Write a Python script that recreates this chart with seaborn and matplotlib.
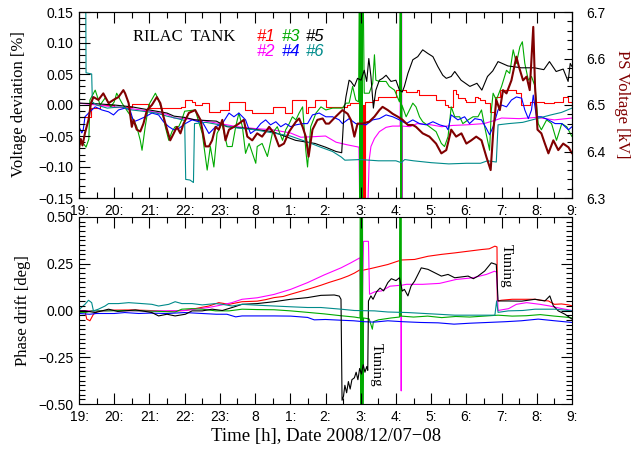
import numpy as np
import matplotlib
matplotlib.use("Agg")
import matplotlib.pyplot as plt
import seaborn as sns
from matplotlib.ticker import MultipleLocator, FuncFormatter

# hours since 19:00 on 12/07 (19 .. 33 = 9:00 next day)
hour_ticks = list(range(19, 34))
hour_labels = ["19:", "20:", "21:", "22:", "23:", "8", "1:", "2:", "3:",
               "4:", "5:", "6:", "7:", "8:", "9:"]

tank_names = ["#1", "#2", "#3", "#4", "#5", "#6"]
tank_colors = ["#ff0000", "#ff00ff", "#00aa00", "#0000ff", "#000000", "#008b8b"]
ps_color = "#800000"

# ---- top panel: voltage deviation [%] (time, value) ----
volt_1 = [(19.0, -0.02), (19.3, -0.02), (19.35, -0.005), (19.6, 0.0), (20.0, -0.003),
          (20.5, 0.002), (21.0, -0.005), (21.5, -0.005), (21.9, -0.003), (22.0, 0.008),
          (22.2, 0.005), (22.3, 0.0), (22.5, 0.003), (22.7, -0.011), (23.0, -0.008),
          (23.25, 0.005), (23.5, 0.005), (23.7, -0.008), (23.9, -0.013), (24.3, -0.013),
          (24.5, -0.003), (24.85, -0.013), (25.05, 0.008), (25.35, 0.008), (25.44, -0.013),
          (25.5, -0.003), (25.7, 0.008), (26.0, -0.003), (26.6, 0.0), (26.7, 0.003),
          (27.0, 0.003), (27.02, -0.2), (27.04, 0.0), (27.06, -0.2), (27.08, 0.0),
          (27.10, -0.2), (27.12, 0.005), (27.35, 0.008), (27.5, 0.013), (27.8, 0.013),
          (28.0, 0.024), (28.3, 0.021), (28.6, 0.024), (28.66, 0.016), (29.0, 0.016),
          (29.14, 0.008), (29.4, 0.0), (29.47, -0.003), (29.62, 0.024), (29.7, 0.018),
          (29.76, 0.011), (29.85, 0.011), (29.95, 0.008), (30.0, 0.005), (30.14, 0.005),
          (30.25, 0.013), (30.33, 0.011), (30.4, 0.008), (30.52, 0.003), (30.66, -0.011),
          (30.8, 0.013), (30.95, 0.024), (31.4, 0.02), (31.56, 0.0), (31.8, 0.005),
          (32.2, 0.003), (32.5, 0.005), (32.75, 0.013), (32.9, 0.005), (33.0, -0.003)]

volt_2 = [(19.0, 0.003), (19.5, 0.0), (20.0, -0.003), (20.5, -0.006), (21.0, -0.01),
          (21.5, -0.015), (21.7, -0.021), (22.0, -0.022), (22.5, -0.025), (23.0, -0.03),
          (23.5, -0.035), (24.0, -0.038), (24.5, -0.04), (25.0, -0.045), (25.3, -0.052),
          (25.7, -0.051), (26.0, -0.05), (26.3, -0.06), (26.6, -0.064), (26.95, -0.068),
          (26.98, -0.2), (27.18, -0.2), (27.21, -0.148), (27.24, -0.089), (27.29, -0.067),
          (27.39, -0.054), (27.53, -0.043), (27.72, -0.036), (27.9, -0.034), (28.12, -0.034),
          (28.14, 0.2), (28.15, -0.2), (28.16, 0.2), (28.17, -0.2), (28.18, -0.034),
          (28.4, -0.035), (28.6, -0.03), (29.0, -0.032), (29.3, -0.035), (29.6, -0.033),
          (30.0, -0.032), (30.5, -0.03), (30.8, -0.025), (31.0, -0.021), (31.5, -0.022),
          (32.0, -0.02), (32.5, -0.024), (33.0, -0.021)]

volt_3 = [(19.0, -0.065), (19.1, -0.06), (19.2, -0.068), (19.28, -0.055), (19.31, 0.008),
          (19.46, 0.024), (19.6, 0.0), (19.75, 0.012), (19.9, -0.003), (20.0, 0.005),
          (20.07, 0.019), (20.22, 0.003), (20.41, -0.013), (20.55, -0.024), (20.64, -0.035),
          (20.74, -0.057), (20.79, -0.073), (20.88, -0.035), (20.98, 0.0), (21.17, 0.019),
          (21.26, 0.008), (21.35, -0.008), (21.45, -0.035), (21.55, -0.057), (21.64, -0.043),
          (21.73, -0.035), (21.83, -0.035), (21.92, -0.024), (22.0, -0.01), (22.3, -0.008),
          (22.5, -0.046), (22.64, -0.105), (22.73, -0.067), (22.83, -0.1), (22.92, -0.046),
          (23.06, -0.03), (23.21, -0.067), (23.35, -0.067), (23.45, -0.035), (23.54, -0.013),
          (23.64, -0.035), (23.73, -0.078), (23.83, -0.062), (24.02, -0.094), (24.06, -0.067),
          (24.2, -0.062), (24.35, -0.083), (24.49, -0.046), (24.63, -0.035), (24.78, -0.057),
          (24.87, -0.04), (24.97, -0.03), (25.06, -0.019), (25.16, -0.024), (25.25, -0.013),
          (25.35, -0.003), (25.44, -0.073), (25.49, -0.1), (25.58, -0.035), (25.73, -0.013),
          (25.87, -0.003), (26.01, -0.008), (26.2, -0.005), (26.48, -0.005), (26.58, 0.003),
          (26.67, 0.003), (26.77, 0.03), (26.86, 0.008), (26.94, 0.005),
          (26.97, 0.3), (26.98, -0.3), (26.99, 0.3), (27.0, -0.3), (27.01, 0.3),
          (27.02, -0.3), (27.03, 0.3), (27.04, -0.3), (27.05, 0.3), (27.1, 0.019),
          (27.24, 0.019), (27.34, 0.035), (27.39, 0.081), (27.43, 0.04), (27.53, 0.038),
          (27.72, 0.038), (27.81, 0.03), (27.96, 0.024), (28.1, 0.005), (28.13, 0.3),
          (28.14, -0.3), (28.15, 0.3), (28.16, -0.3), (28.17, 0.0), (28.29, -0.019),
          (28.48, 0.003), (28.57, -0.003), (28.67, -0.019), (28.76, -0.027), (28.95, -0.035),
          (29.14, -0.043), (29.29, -0.062), (29.38, -0.067), (29.48, -0.051), (29.57, -0.003),
          (29.67, -0.019), (29.81, -0.019), (29.9, -0.03), (30.05, -0.024), (30.19, -0.019),
          (30.33, -0.019), (30.43, -0.008), (30.52, -0.035), (30.66, -0.073), (30.71, -0.008),
          (30.76, 0.019), (30.85, 0.008), (31.0, 0.03), (31.14, 0.056), (31.23, 0.051),
          (31.33, 0.089), (31.42, 0.067), (31.52, 0.094), (31.59, 0.102), (31.66, 0.067),
          (31.76, 0.04), (31.85, 0.046), (31.95, 0.03), (32.04, -0.03), (32.13, -0.04),
          (32.28, -0.024), (32.42, -0.03), (32.56, -0.057), (32.71, -0.03), (32.85, -0.035),
          (33.0, -0.051)]

volt_4 = [(19.0, -0.035), (19.08, -0.045), (19.12, -0.04), (19.17, -0.019), (19.31, -0.011),
          (19.46, -0.003), (19.65, -0.008), (19.84, -0.011), (19.98, -0.016), (20.12, -0.008),
          (20.31, -0.005), (20.45, -0.008), (20.55, -0.027), (20.69, -0.024), (20.88, -0.019),
          (21.07, -0.013), (21.26, -0.016), (21.4, -0.027), (21.55, -0.035), (21.69, -0.04),
          (21.83, -0.038), (22.02, -0.03), (22.21, -0.024), (22.4, -0.027), (22.5, -0.027),
          (22.69, -0.046), (22.88, -0.035), (23.07, -0.03), (23.26, -0.013), (23.4, -0.019),
          (23.54, -0.013), (23.73, -0.024), (23.87, -0.046), (24.02, -0.04), (24.16, -0.03),
          (24.3, -0.024), (24.44, -0.032), (24.59, -0.027), (24.73, -0.035), (24.87, -0.03),
          (25.01, -0.035), (25.16, -0.032), (25.35, -0.03), (25.49, -0.03), (25.63, -0.016),
          (25.82, -0.013), (26.01, -0.019), (26.2, -0.019), (26.39, -0.024), (26.48, -0.03),
          (26.67, -0.022), (26.86, -0.03), (27.15, -0.032), (27.34, -0.024), (27.53, -0.022),
          (27.72, -0.016), (27.91, -0.019), (28.1, -0.024), (28.29, -0.03), (28.48, -0.024),
          (28.67, -0.03), (28.86, -0.032), (29.05, -0.027), (29.24, -0.032), (29.43, -0.035),
          (29.48, -0.04), (29.57, -0.016), (29.76, -0.024), (29.95, -0.019), (30.09, -0.03),
          (30.24, -0.022), (30.43, -0.024), (30.57, -0.038), (30.66, -0.048), (30.76, -0.035),
          (30.9, -0.008), (31.0, 0.0), (31.14, -0.003), (31.28, 0.008), (31.42, 0.013),
          (31.57, 0.011), (31.66, -0.008), (31.76, -0.022), (31.85, -0.008), (31.9, 0.016),
          (31.99, -0.019), (32.13, -0.019), (32.33, -0.024), (32.52, -0.03), (32.71, -0.03),
          (32.9, -0.04), (33.0, -0.035)]

volt_5 = [(19.0, 0.003), (19.5, 0.002), (20.0, 0.0), (20.5, -0.003), (21.0, -0.008),
          (21.5, -0.013), (21.7, -0.018), (22.0, -0.02), (22.3, -0.024), (22.9, -0.026),
          (23.2, -0.035), (23.8, -0.038), (24.5, -0.043), (25.15, -0.057), (25.7, -0.062),
          (26.0, -0.068), (26.3, -0.075), (26.46, -0.077), (26.53, -0.008), (26.58, 0.013),
          (26.67, 0.04), (26.72, 0.038), (26.82, 0.03), (26.91, 0.043), (27.01, 0.04),
          (27.1, 0.056), (27.17, 0.038), (27.23, 0.075), (27.29, 0.046), (27.36, -0.005),
          (27.43, 0.024), (27.53, 0.04), (27.62, 0.043), (27.72, 0.048), (27.86, 0.038),
          (28.0, 0.04), (28.1, 0.024), (28.18, 0.021), (28.24, 0.03), (28.34, 0.051),
          (28.48, 0.073), (28.62, 0.078), (28.76, 0.089), (28.91, 0.083), (29.05, 0.078),
          (29.19, 0.062), (29.33, 0.048), (29.43, 0.043), (29.57, 0.046), (29.67, 0.054),
          (29.85, 0.04), (30.1, 0.03), (30.3, 0.035), (30.44, 0.024), (30.6, 0.046),
          (30.75, 0.055), (30.9, 0.07), (31.18, 0.063), (31.56, 0.06), (31.93, 0.06),
          (32.2, 0.057), (32.36, 0.07), (32.55, 0.054), (32.75, 0.058), (32.89, 0.038),
          (32.95, 0.067), (33.0, 0.062)]

volt_6 = [(19.0, 0.2), (19.19, 0.2), (19.2, 0.052), (19.36, 0.05), (19.38, 0.005),
          (19.5, 0.0), (19.8, -0.005), (20.2, -0.003), (20.5, -0.008), (20.8, -0.01),
          (21.2, -0.013), (21.5, -0.018), (21.8, -0.022), (22.0, -0.025), (22.03, -0.12),
          (22.15, -0.121), (22.25, -0.125), (22.28, -0.03), (22.6, -0.028), (23.0, -0.032),
          (23.5, -0.037), (24.0, -0.04), (24.5, -0.045), (25.0, -0.05), (25.5, -0.06),
          (25.86, -0.068), (26.2, -0.075), (26.45, -0.084), (26.55, -0.089), (27.0, -0.088),
          (27.5, -0.09), (28.0, -0.09), (28.15, -0.093), (28.25, -0.088), (28.5, -0.09),
          (29.0, -0.093), (29.5, -0.095), (30.0, -0.094), (30.4, -0.094), (30.6, -0.09),
          (30.85, -0.092), (30.9, -0.032), (31.2, -0.03), (31.6, -0.028), (32.0, -0.022),
          (32.4, -0.016), (32.7, -0.012), (33.0, -0.005)]

# PS voltage [kV], right axis
ps_kv = [(19.0, 6.407), (19.05, 6.427), (19.1, 6.413), (19.17, 6.44), (19.27, 6.468),
         (19.34, 6.504), (19.41, 6.517), (19.55, 6.511), (19.69, 6.525), (19.84, 6.504),
         (19.98, 6.511), (20.12, 6.517), (20.26, 6.532), (20.31, 6.525), (20.41, 6.504),
         (20.5, 6.453), (20.55, 6.468), (20.64, 6.447), (20.74, 6.443), (20.83, 6.46),
         (20.93, 6.489), (21.07, 6.5), (21.21, 6.517), (21.31, 6.504), (21.4, 6.475),
         (21.5, 6.447), (21.59, 6.424), (21.69, 6.439), (21.78, 6.453), (21.88, 6.439),
         (21.97, 6.46), (22.12, 6.483), (22.3, 6.489), (22.45, 6.468), (22.59, 6.411),
         (22.69, 6.411), (22.78, 6.424), (22.88, 6.453), (22.97, 6.447), (23.07, 6.468),
         (23.16, 6.424), (23.26, 6.447), (23.4, 6.453), (23.54, 6.46), (23.68, 6.468),
         (23.78, 6.432), (23.92, 6.424), (24.06, 6.439), (24.2, 6.432), (24.4, 6.453),
         (24.54, 6.439), (24.68, 6.411), (24.82, 6.417), (24.97, 6.443), (25.16, 6.464),
         (25.25, 6.471), (25.35, 6.453), (25.44, 6.432), (25.52, 6.389), (25.63, 6.447),
         (25.77, 6.468), (25.92, 6.471), (26.01, 6.46), (26.1, 6.46), (26.29, 6.475),
         (26.48, 6.489), (26.63, 6.481), (26.72, 6.468), (26.82, 6.432), (26.91, 6.46),
         (27.05, 6.46), (27.24, 6.464), (27.39, 6.475), (27.53, 6.489), (27.62, 6.496),
         (27.77, 6.489), (27.91, 6.481), (28.05, 6.475), (28.19, 6.468), (28.34, 6.457),
         (28.48, 6.457), (28.57, 6.453), (28.76, 6.439), (28.95, 6.432), (29.14, 6.417),
         (29.29, 6.396), (29.43, 6.403), (29.57, 6.447), (29.71, 6.432), (29.86, 6.439),
         (30.0, 6.417), (30.14, 6.424), (30.28, 6.432), (30.43, 6.424), (30.57, 6.388),
         (30.69, 6.36), (30.76, 6.439), (30.85, 6.511), (30.95, 6.489), (31.04, 6.532),
         (31.14, 6.525), (31.28, 6.553), (31.42, 6.604), (31.49, 6.583), (31.61, 6.553),
         (31.71, 6.561), (31.8, 6.532), (31.9, 6.668), (31.95, 6.54), (32.02, 6.447),
         (32.13, 6.439), (32.23, 6.417), (32.33, 6.396), (32.47, 6.424), (32.61, 6.403),
         (32.75, 6.417), (32.9, 6.409), (33.0, 6.396)]

# ---- bottom panel: phase drift [deg] (time, value) ----
phase_1 = [(19.0, 0.0), (19.17, -0.002), (19.22, -0.046), (19.31, -0.055), (19.41, -0.02),
           (19.55, -0.002), (20.0, 0.002), (20.5, 0.003), (21.0, 0.0), (21.5, -0.005),
           (22.0, 0.0), (22.3, 0.01), (22.69, 0.024), (22.97, 0.042), (23.26, 0.033),
           (23.63, 0.047), (24.06, 0.05), (24.3, 0.058), (24.54, 0.069), (24.8, 0.075),
           (25.01, 0.087), (25.25, 0.1), (25.49, 0.113), (25.7, 0.125), (25.87, 0.135),
           (26.1, 0.15), (26.44, 0.17), (26.65, 0.185), (26.82, 0.2), (27.0, 0.22),
           (27.02, -0.08), (27.05, 0.215), (27.3, 0.225), (27.77, 0.246), (28.15, 0.27),
           (28.53, 0.273), (28.91, 0.29), (29.29, 0.3), (29.67, 0.308), (30.05, 0.317),
           (30.43, 0.326), (30.65, 0.33), (30.81, 0.344), (30.87, 0.34), (30.88, 0.051),
           (31.0, 0.055), (31.3, 0.06), (31.56, 0.06), (31.95, 0.06), (32.1, 0.055),
           (32.33, 0.051), (32.5, 0.033), (32.7, 0.035), (32.9, 0.03), (33.0, 0.025)]

phase_2 = [(19.0, 0.0), (19.5, -0.003), (20.0, 0.0), (21.0, -0.003), (22.0, 0.0),
           (22.3, 0.007), (22.68, 0.016), (23.06, 0.03), (23.34, 0.042), (23.63, 0.06),
           (24.06, 0.068), (24.54, 0.086), (25.01, 0.113), (25.49, 0.149), (25.96, 0.19),
           (26.44, 0.228), (26.72, 0.255), (26.98, 0.282), (27.0, -0.02), (27.04, -0.02),
           (27.07, 0.28), (27.08, 0.37), (27.22, 0.37), (27.25, 0.087), (27.4, 0.1),
           (27.6, 0.105), (27.83, 0.13), (28.14, 0.135), (28.15, -0.43), (28.16, 0.135),
           (28.3, 0.14), (28.53, 0.14), (28.76, 0.14), (29.24, 0.145), (29.71, 0.166),
           (30.19, 0.175), (30.57, 0.193), (30.8, 0.21), (30.86, 0.205), (30.9, 0.0),
           (31.2, 0.01), (31.42, 0.033), (31.71, 0.042), (32.09, 0.033), (32.37, 0.024),
           (32.66, 0.012), (33.0, 0.0)]

phase_3 = [(19.0, -0.01), (19.2, -0.01), (19.36, -0.002), (19.84, -0.002), (20.3, 0.0),
           (20.8, -0.002), (21.3, -0.005), (21.73, -0.008), (21.92, 0.007), (22.2, 0.01),
           (22.5, 0.007), (22.88, -0.002), (23.26, -0.002), (23.63, 0.007), (24.06, 0.005),
           (24.54, 0.004), (25.01, -0.002), (25.49, -0.01), (25.96, -0.018), (26.44, -0.028),
           (26.82, -0.035), (26.98, -0.04), (26.99, 0.6), (27.0, -0.6), (27.01, 0.6),
           (27.02, -0.6), (27.03, 0.6), (27.04, -0.6), (27.05, 0.6), (27.06, -0.6),
           (27.08, -0.04), (27.24, -0.045), (27.33, -0.1), (27.36, -0.06), (27.5, -0.05),
           (27.86, -0.04), (28.1, -0.035), (28.12, 0.6), (28.13, -0.03), (28.14, 0.6),
           (28.15, -0.03), (28.5, -0.035), (28.9, -0.03), (29.3, -0.038), (29.7, -0.032),
           (30.1, -0.035), (30.5, -0.03), (30.9, -0.025), (31.3, -0.03), (31.7, -0.028),
           (32.1, -0.022), (32.5, -0.03), (32.8, -0.035), (33.0, -0.04)]

phase_4 = [(19.0, -0.016), (19.3, -0.02), (19.5, -0.016), (20.0, -0.016), (20.3, -0.011),
           (20.7, -0.016), (21.0, -0.014), (21.5, -0.016), (22.0, -0.011), (22.5, -0.016),
           (22.9, -0.02), (23.2, -0.02), (23.45, -0.034), (23.63, -0.029), (24.06, -0.029),
           (24.54, -0.029), (25.01, -0.03), (25.49, -0.037), (25.68, -0.05), (26.0, -0.048),
           (26.44, -0.052), (26.8, -0.055), (27.1, -0.06), (27.39, -0.062), (27.77, -0.055),
           (28.2, -0.06), (28.7, -0.064), (29.2, -0.066), (29.65, -0.073), (30.1, -0.068),
           (30.6, -0.064), (31.1, -0.06), (31.56, -0.055), (32.04, -0.046), (32.51, -0.055),
           (33.0, -0.064)]

phase_5 = [(19.0, -0.002), (19.17, -0.002), (19.46, -0.011), (19.84, 0.007), (20.1, -0.005),
           (20.31, -0.002), (20.6, 0.003), (20.79, -0.002), (21.07, -0.011), (21.26, -0.029),
           (21.5, -0.02), (21.73, -0.029), (22.02, -0.02), (22.21, -0.002), (22.5, -0.002),
           (22.78, 0.007), (23.07, 0.0), (23.35, 0.016), (23.63, 0.033), (24.06, 0.037),
           (24.54, 0.047), (25.01, 0.06), (25.49, 0.069), (25.87, 0.081), (26.25, 0.083),
           (26.39, 0.077), (26.44, 0.06), (26.47, -0.48), (26.51, -0.46), (26.55, -0.40),
           (26.6, -0.44), (26.65, -0.38), (26.7, -0.42), (26.75, -0.37), (26.82, -0.36),
           (26.87, -0.33), (26.92, -0.37), (26.97, -0.31), (27.02, -0.34), (27.07, -0.29),
           (27.12, -0.33), (27.17, -0.3), (27.2, -0.32), (27.22, 0.051), (27.29, 0.078),
           (27.35, 0.06), (27.45, 0.1), (27.55, 0.12), (27.65, 0.105), (27.77, 0.149),
           (27.87, 0.17), (28.0, 0.16), (28.1, 0.175), (28.18, 0.104), (28.24, 0.113),
           (28.34, 0.078), (28.43, 0.131), (28.53, 0.157), (28.72, 0.228), (28.91, 0.22),
           (29.1, 0.202), (29.29, 0.184), (29.48, 0.193), (29.67, 0.175), (30.05, 0.184),
           (30.2, 0.17), (30.33, 0.184), (30.52, 0.211), (30.71, 0.255), (30.85, 0.246),
           (30.9, 0.051), (31.19, 0.051), (31.57, 0.05), (31.95, 0.06), (32.23, 0.051),
           (32.37, 0.078), (32.47, 0.025), (32.61, -0.002), (32.8, -0.02), (33.0, -0.046)]

phase_6 = [(19.0, -0.002), (19.03, 0.01), (19.17, 0.033), (19.27, 0.055), (19.36, 0.042),
           (19.41, -0.002), (19.55, 0.007), (19.74, 0.024), (19.84, 0.037), (20.12, 0.037),
           (20.41, 0.042), (20.79, 0.037), (21.07, 0.033), (21.26, 0.024), (21.55, 0.033),
           (21.73, 0.047), (21.92, 0.037), (22.21, 0.037), (22.5, 0.03), (22.88, 0.037),
           (23.07, 0.033), (23.35, 0.024), (23.63, 0.033), (24.1, 0.028), (24.54, 0.024),
           (25.0, 0.02), (25.49, 0.016), (25.87, 0.016), (26.44, 0.007), (26.82, 0.0),
           (27.39, -0.002), (27.77, -0.008), (28.34, -0.011), (28.72, -0.015), (29.2, -0.02),
           (29.67, -0.025), (30.2, -0.025), (30.81, -0.025), (30.86, 0.051), (30.9, -0.01),
           (31.19, -0.002), (31.6, 0.0), (31.95, 0.007), (32.51, 0.007), (33.0, -0.002)]

volt_series = [volt_1, volt_2, volt_3, volt_4, volt_5, volt_6]
phase_series = [phase_1, phase_2, phase_3, phase_4, phase_5, phase_6]


def trace(ax, pairs, color, lw=0.8, **kw):
    t, v = zip(*pairs)
    sns.lineplot(x=list(t), y=list(v), ax=ax, color=color, linewidth=lw,
                 estimator=None, sort=False, legend=False, **kw)


def minus_fmt(x, pos):
    s = f"{x:.2f}"
    if s == "-0.00":
        s = "0.00"
    return s.replace("-", "\u2212")


sns.set_style("ticks")
plt.rcParams.update({
    "font.family": ["Liberation Sans", "DejaVu Sans"],
    "axes.linewidth": 0.8,
    "axes.edgecolor": "black",
    "axes.axisbelow": False,
    "text.color": "black",
    "xtick.color": "black",
    "ytick.color": "black",
    "xtick.direction": "in",
    "ytick.direction": "in",
    "xtick.top": True,
    "xtick.bottom": True,
    "ytick.left": True,
    "ytick.right": True,
    "xtick.major.size": 8,
    "ytick.major.size": 8,
    "xtick.minor.size": 4,
    "ytick.minor.size": 4,
    "xtick.major.width": 0.8,
    "ytick.major.width": 0.8,
    "xtick.minor.width": 0.8,
    "ytick.minor.width": 0.8,
    "xtick.labelsize": 10,
    "ytick.labelsize": 10,
    "xtick.major.pad": 4,
    "ytick.major.pad": 4,
})

fig = plt.figure(figsize=(6.41, 4.49), dpi=100)
ax_v = fig.add_axes([79 / 641, 1 - 198 / 449, 493 / 641, 186 / 449])
ax_p = fig.add_axes([79 / 641, 1 - 404 / 449, 493 / 641, 187 / 449])

for pairs, col in zip(volt_series, tank_colors):
    trace(ax_v, pairs, col, drawstyle="steps-post" if col == "#ff0000" else "default")

ax_ps = ax_v.twinx()
trace(ax_ps, ps_kv, ps_color, lw=1.5)

for pairs, col in zip(phase_series, tank_colors):
    trace(ax_p, pairs, col)

for ax in (ax_v, ax_p):
    ax.set_xlim(19, 33)
    ax.set_xticks(hour_ticks)
    ax.set_xticklabels(hour_labels)
    ax.xaxis.set_minor_locator(MultipleLocator(0.5))
    ax.yaxis.set_major_formatter(FuncFormatter(minus_fmt))
    ax.tick_params(which="both", direction="in", top=True, bottom=True, left=True,
                   color="black")
    ax.set_xlabel("")
    ax.set_ylabel("")

ax_v.set_ylim(-0.15, 0.15)
ax_v.set_yticks(np.linspace(-0.15, 0.15, 7))
ax_v.yaxis.set_minor_locator(MultipleLocator(0.01))
ax_v.tick_params(which="both", right=False)

ax_ps.set_ylim(6.3, 6.7)
ax_ps.set_yticks([6.3, 6.4, 6.5, 6.6, 6.7])
ax_ps.set_yticklabels(["6.3", "6.4", "6.5", "6.6", "6.7"])
ax_ps.yaxis.set_minor_locator(MultipleLocator(0.02))
ax_ps.tick_params(which="both", direction="in", left=False, right=True,
                  color="black", pad=10)
ax_ps.tick_params(which="major", length=6)
ax_ps.tick_params(which="minor", length=3.5)
ax_ps.set_ylabel("")

ax_p.set_ylim(-0.5, 0.5)
ax_p.set_yticks([-0.5, -0.25, 0.0, 0.25, 0.5])
ax_p.yaxis.set_minor_locator(MultipleLocator(0.025))
ax_p.tick_params(which="both", right=True)

serif = ["Liberation Serif", "DejaVu Serif"]

# legend-like labels and title in the top panel
ax_ps.text(0.11, 0.866, "RILAC  TANK", transform=ax_v.transAxes, fontsize=12,
           family=serif, ha="left", va="center")
cols_x = [0.361, 0.412, 0.460]
rows_y = [0.866, 0.79]
for i, (name, col) in enumerate(zip(tank_names, tank_colors)):
    ax_ps.text(cols_x[i // 2], rows_y[i % 2], name, transform=ax_v.transAxes,
               color=col, fontsize=12, style="italic", ha="left", va="center")

ax_p.text(27.45, -0.29, "Tuning", rotation=270, fontsize=11, family=serif,
          ha="center", va="center")
ax_p.text(31.14, 0.24, "Tuning", rotation=270, fontsize=11, family=serif,
          ha="center", va="center")

fig.text(19 / 641, 1 - 104 / 449, "Voltage deviation [%]", rotation=90,
         fontsize=12, family=serif, ha="center", va="center")
fig.text(622 / 641, 1 - 104 / 449, "PS Voltage [kV]", rotation=270,
         fontsize=12, family=serif, color=ps_color, ha="center", va="center")
fig.text(23 / 641, 1 - 311 / 449, "Phase drift [deg]", rotation=90,
         fontsize=12, family=serif, ha="center", va="center")
fig.text(326 / 641, 1 - 437 / 449, "Time [h], Date 2008/12/07\u221208",
         fontsize=13.5, family=serif, ha="center", va="center")

fig.savefig("out.png", dpi=100)
